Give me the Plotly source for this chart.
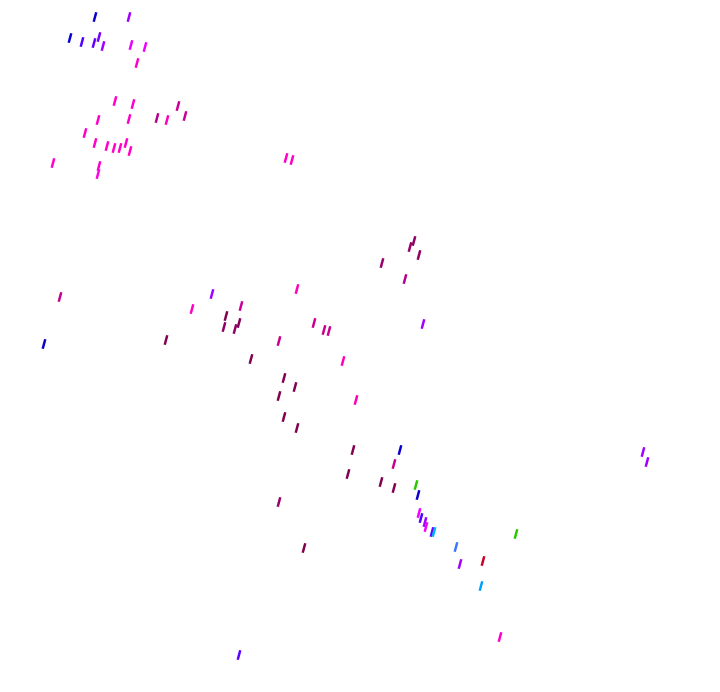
import plotly.graph_objects as go

# Point positions (in plot units) and their colours
xs = [206, 95, 129, 70, 82, 94, 99, 103, 131, 145, 137,
      115, 133, 98, 129, 157, 167, 178, 185, 85, 95, 107, 114, 120, 126, 130,
      53, 99, 98, 286, 292,
      414, 410, 419, 382, 405, 297, 212, 192, 241, 226, 239, 224, 235,
      314, 324, 329, 423, 279, 251, 343, 284, 295, 279, 356, 284, 297,
      60, 44, 166,
      400, 394, 381, 394, 416, 418, 419, 421, 425, 426, 432, 434, 516, 456, 460, 483, 481,
      353, 348, 279, 304, 643, 647, 500, 239]
ys = [1, 17, 17, 38, 42, 43, 37, 46, 45, 47, 63,
      101, 104, 120, 119, 118, 120, 106, 116, 133, 143, 146, 148, 148, 143, 151,
      163, 166, 174, 158, 160,
      241, 247, 255, 263, 279, 289, 294, 309, 306, 316, 323, 327, 329,
      323, 330, 331, 324, 341, 359, 361, 378, 387, 396, 400, 417, 428,
      297, 344, 340,
      450, 464, 482, 488, 485, 495, 513, 518, 522, 527, 532, 532, 534, 547, 564, 561, 586,
      450, 474, 502, 548, 452, 462, 637, 655]
colors = ["#ff00c8", "#0a00c8", "#a000ff", "#0a00d2", "#5000ff", "#6400ff", "#7000ff", "#a000ff", "#e600ff", "#f000ff", "#ff00c8",
          "#ff00c8", "#ff00c8", "#ff00c8", "#ff00c8", "#b4008c", "#ff00b4", "#c80096", "#c80096", "#ff00c8", "#ff00c8", "#ff00c8", "#ff00c8", "#ff00c8", "#ff00c8", "#ff00c8",
          "#ff00c8", "#ff00c8", "#ff00e6", "#ff00c8", "#ff00c8",
          "#8c0064", "#960069", "#8c0064", "#96006e", "#b4008c", "#ff00b4", "#a000ff", "#ff00c8", "#c8009b", "#820050", "#82005a", "#8c0064", "#8c0064",
          "#c8008c", "#c8008c", "#c8008c", "#a000ff", "#c8008c", "#800050", "#ff00b4", "#820050", "#820050", "#820050", "#ff00b4", "#820050", "#820050",
          "#c8008c", "#0a00c8", "#820050",
          "#0a00c8", "#c8008c", "#820050", "#820050", "#28c800", "#0a00c8", "#f000ff", "#5000ff", "#a000ff", "#f000ff", "#6400ff", "#00b4ff", "#28c800", "#3c78ff", "#a000ff", "#c80028", "#00a0ff",
          "#820050", "#820050", "#960069", "#820050", "#a000ff", "#a000ff", "#ff00c8", "#5a00ff"]

fig = go.Figure(go.Scatter(
    x=xs, y=ys, mode="markers",
    marker=dict(symbol="line-ns", size=7, angle=15,
                color=colors, line=dict(color=colors, width=2.5)),
    hoverinfo="skip", showlegend=False,
))
fig.update_layout(
    width=712, height=684,
    margin=dict(l=0, r=0, t=0, b=0),
    paper_bgcolor="white", plot_bgcolor="white",
    xaxis=dict(range=[8, 720], visible=False, showgrid=False, zeroline=False),
    yaxis=dict(range=[692, 8], visible=False, showgrid=False, zeroline=False),
)
fig.write_html("out.html")
